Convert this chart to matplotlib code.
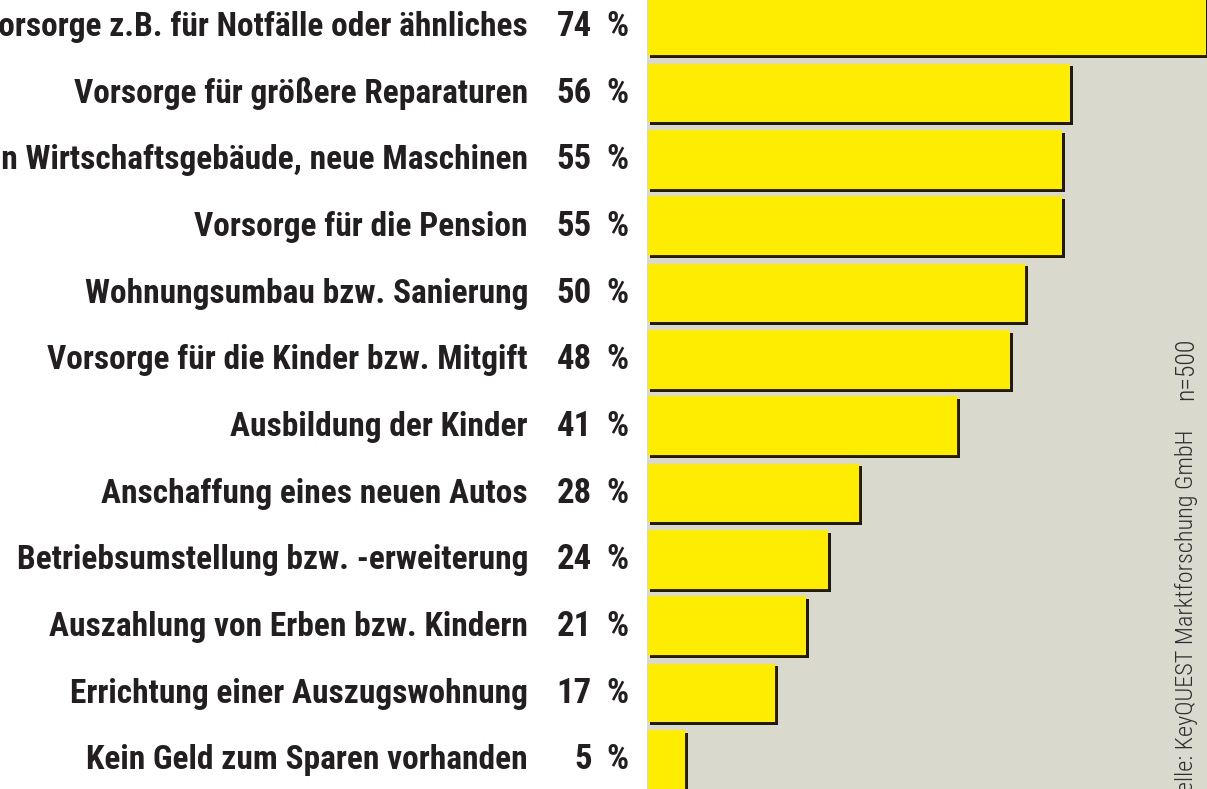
import matplotlib
matplotlib.use("Agg")
import matplotlib.pyplot as plt
from matplotlib import font_manager as fm
from matplotlib.font_manager import FontProperties

# ---------------- data ----------------
categories = [
    "Vorsorge z.B. für Notfälle oder ähnliches",
    "Vorsorge für größere Reparaturen",
    "Investition in Wirtschaftsgebäude, neue Maschinen",
    "Vorsorge für die Pension",
    "Wohnungsumbau bzw. Sanierung",
    "Vorsorge für die Kinder bzw. Mitgift",
    "Ausbildung der Kinder",
    "Anschaffung eines neuen Autos",
    "Betriebsumstellung bzw. -erweiterung",
    "Auszahlung von Erben bzw. Kindern",
    "Errichtung einer Auszugswohnung",
    "Kein Geld zum Sparen vorhanden",
]
values = [74, 56, 55, 55, 50, 48, 41, 28, 24, 21, 17, 5]
value_numbers = [str(v) for v in values]
percent_sign = "%"
source_text = "Quelle: KeyQUEST Marktforschung GmbH"
n_text = "n=500"

# ---------------- fonts ----------------
def find_font(bold=True, light=False):
    cands = []
    for f in fm.fontManager.ttflist:
        name = f.name
        fn = f.fname.lower()
        cond = (f.stretch in ("condensed", "semi-condensed", "extra-condensed", "ultra-condensed")
                or "narrow" in fn or "condensed" in fn or "narrow" in name.lower()
                or "condensed" in name.lower())
        if not cond or f.style != "normal":
            continue
        w = f.weight if isinstance(f.weight, int) else (700 if "bold" in str(f.weight) else 400)
        if bold and (w < 600 or "black" in fn or "extra" in fn):
            continue
        if (not bold) and w >= 600:
            continue
        pri = 5
        if "roboto" in fn: pri = 0
        elif "liberation" in fn: pri = 1
        elif "dejavu" in fn: pri = 2
        elif "noto" in fn: pri = 3
        wpen = abs(w - (300 if light else (700 if bold else 400))) / 100.0
        cands.append((pri, wpen, f.fname))
    if cands:
        cands.sort()
        return FontProperties(fname=cands[0][2])
    return FontProperties(family="Liberation Sans", weight="bold" if bold else "normal")

fp_bold = find_font(True)
fp_light = find_font(False, light=True)

# ---------------- figure ----------------
W, H, DPI = 1207, 789, 100
fig = plt.figure(figsize=(W / DPI, H / DPI), dpi=DPI)
fig.patch.set_facecolor("white")

ax_left = 647
ax = fig.add_axes([ax_left / W, 0, 1 - ax_left / W, 1])
ax.set_facecolor("#DAD9CE")
for s in ax.spines.values():
    s.set_visible(False)
ax.set_xticks([])
ax.set_yticks([])

px_per_unit = (1206 - 647) / 74.0
ax.set_xlim(0, (W - ax_left) / px_per_unit)
pitch = 66.67
top_center = 25.8
ax.set_ylim((H - top_center) / pitch, -top_center / pitch)

ypos = list(range(len(categories)))
bar_h = 59 / pitch
dx = 3 / px_per_unit
dy = 3 / pitch
ax.barh([y + dy for y in ypos], values, left=dx, height=bar_h, color="#1E1A12", zorder=2)
ax.barh(ypos, values, height=bar_h, color="#FFED00", zorder=3)

txt_color = "#231F20"
fs = 24.0
fs_val = 25
cap_off = -7.3  # points
for y, lab, num in zip(ypos, categories, value_numbers):
    common = dict(xycoords=("figure fraction", "data"), textcoords="offset points",
                  ha="right", va="baseline", fontproperties=fp_bold,
                  color=txt_color, annotation_clip=False)
    ax.annotate(lab, xy=(528 / W, y), xytext=(0, cap_off), fontsize=fs, **common)
    ax.annotate(num, xy=(592 / W, y), xytext=(0, cap_off), fontsize=fs_val, **common)
    ax.annotate(percent_sign, xy=(629 / W, y), xytext=(0, cap_off), fontsize=fs_val, **common)

src_color = "#2E2E2E"
fig.text(1186 / W, 1 - 338 / H, n_text, rotation=90, rotation_mode="anchor",
         ha="right", va="center", fontproperties=fp_light, fontsize=18.5, color=src_color)
fig.text(1186 / W, 1 - 430 / H, source_text, rotation=90, rotation_mode="anchor",
         ha="right", va="center", fontproperties=fp_light, fontsize=17.5, color=src_color)

fig.savefig("out.png", dpi=DPI, facecolor=fig.get_facecolor())
